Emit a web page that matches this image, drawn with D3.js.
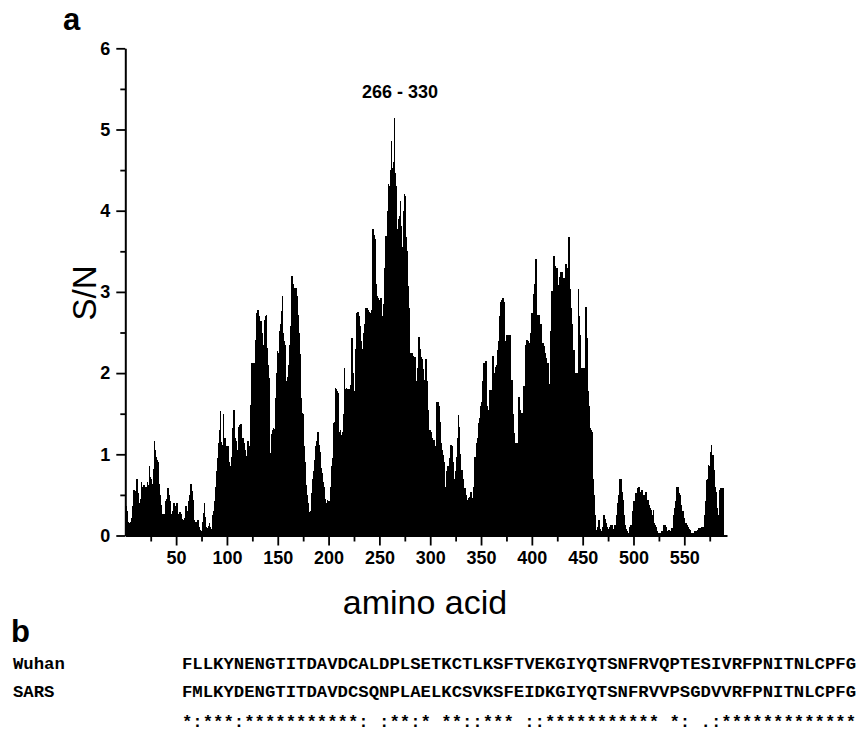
<!DOCTYPE html>
<html>
<head>
<meta charset="utf-8">
<script src="https://cdn.jsdelivr.net/npm/d3@7"></script>
<style>
  body { margin: 0; background: #fff; }
  svg { display: block; }
  .tick text { font-family: 'Liberation Sans', Arial, sans-serif; font-weight: bold; font-size: 18px; fill: #000; }
  .seq { font-family: 'Liberation Mono', 'Courier New', monospace; font-size: 17.3px; font-weight: bold; fill: #000; white-space: pre; }
</style>
</head>
<body>
<svg width="859" height="731"></svg>
<script>
// S/N per amino acid position (residue 1 .. 588)
var snValues = [
  0.36, 0.30, 0.17, 0.15, 0.14, 0.17, 0.22, 0.36, 0.56, 0.55,
  0.38, 0.70, 0.52, 0.40, 0.45, 0.66, 0.60, 0.62, 0.62, 0.60,
  0.60, 0.66, 0.62, 0.85, 0.72, 0.70, 0.64, 0.82, 1.16, 1.05,
  0.97, 0.93, 0.90, 0.64, 0.50, 0.38, 0.27, 0.26, 0.27, 0.42,
  0.45, 0.58, 0.50, 0.42, 0.25, 0.27, 0.30, 0.40, 0.34, 0.36,
  0.40, 0.27, 0.25, 0.29, 0.27, 0.20, 0.17, 0.19, 0.22, 0.36,
  0.27, 0.30, 0.42, 0.50, 0.64, 0.55, 0.44, 0.19, 0.17, 0.15,
  0.17, 0.19, 0.11, 0.07, 0.06, 0.17, 0.28, 0.40, 0.23, 0.10,
  0.09, 0.12, 0.15, 0.11, 0.08, 0.25, 0.30, 0.42, 0.60, 0.80,
  0.95, 1.14, 1.30, 1.53, 1.15, 1.12, 1.50, 1.20, 1.10, 1.10,
  1.10, 0.90, 0.73, 0.85, 0.97, 1.32, 1.55, 1.20, 1.16, 1.03,
  1.05, 1.34, 1.36, 1.37, 1.14, 1.20, 1.14, 1.05, 0.97, 0.98,
  1.16, 1.10, 1.05, 1.61, 2.12, 1.75, 2.13, 1.90, 2.41, 2.74,
  2.78, 2.70, 2.54, 2.64, 2.50, 2.35, 2.65, 2.70, 2.72, 2.31,
  2.10, 1.94, 1.01, 1.25, 1.30, 1.32, 1.31, 1.69, 2.00, 2.27,
  2.25, 2.52, 2.60, 2.76, 2.95, 2.50, 2.39, 2.35, 1.90, 1.95,
  2.10, 2.35, 2.58, 3.20, 3.10, 3.05, 3.05, 3.05, 2.95, 2.72,
  2.50, 2.23, 1.69, 1.51, 1.50, 1.10, 0.90, 0.62, 0.50, 0.40,
  0.29, 0.27, 0.30, 0.52, 0.70, 0.80, 0.93, 1.10, 1.16, 1.27,
  1.12, 1.03, 0.83, 0.77, 0.66, 0.60, 0.45, 0.40, 0.44, 0.42,
  0.42, 0.60, 0.85, 0.95, 1.38, 1.40, 1.82, 1.80, 1.78, 1.75,
  1.28, 1.30, 1.24, 1.28, 1.50, 2.06, 1.80, 1.82, 1.80, 1.80,
  1.80, 1.85, 2.43, 2.00, 1.78, 1.78, 2.30, 2.74, 2.75, 2.70,
  2.58, 2.40, 2.30, 2.25, 2.50, 2.60, 2.80, 2.80, 2.78, 2.75,
  2.74, 2.70, 2.78, 3.77, 3.70, 3.65, 3.10, 2.95, 2.93, 2.60,
  2.90, 2.93, 2.58, 2.70, 2.85, 3.30, 3.69, 4.00, 4.33, 4.30,
  4.50, 4.86, 4.53, 4.60, 5.14, 4.47, 4.30, 3.77, 3.90, 3.94,
  4.12, 3.81, 3.55, 4.00, 4.20, 4.18, 3.67, 3.50, 3.07, 2.80,
  2.25, 2.25, 2.21, 2.20, 2.20, 1.38, 1.90, 2.06, 2.45, 2.30,
  2.20, 2.17, 2.05, 1.92, 1.88, 2.17, 1.90, 1.55, 1.30, 1.30,
  1.28, 1.20, 1.08, 1.18, 0.95, 1.10, 1.65, 1.65, 1.59, 1.40,
  1.14, 1.05, 0.99, 0.90, 0.48, 0.60, 0.79, 0.85, 0.95, 1.12,
  1.12, 1.10, 0.90, 0.70, 0.80, 0.97, 1.20, 1.49, 1.34, 1.00,
  0.81, 0.81, 0.70, 0.58, 0.58, 0.50, 0.44, 0.46, 0.48, 0.54,
  0.54, 0.46, 0.60, 0.97, 0.95, 1.14, 1.20, 1.38, 1.45, 1.60,
  1.65, 1.90, 2.12, 2.10, 2.15, 1.59, 1.55, 1.47, 1.79, 1.60,
  1.79, 2.21, 2.00, 1.69, 2.08, 2.10, 2.29, 2.40, 2.70, 2.88,
  2.90, 2.93, 2.88, 2.35, 2.40, 2.47, 2.47, 2.45, 2.47, 1.92,
  1.92, 1.50, 1.26, 1.14, 1.14, 1.14, 1.71, 1.71, 1.55, 1.51,
  1.51, 1.84, 1.84, 2.35, 2.41, 2.41, 2.39, 2.37, 2.50, 2.74,
  2.74, 2.97, 3.10, 3.40, 2.72, 2.72, 2.72, 2.60, 2.60, 2.37,
  2.37, 2.33, 2.25, 2.19, 2.13, 2.13, 1.86, 1.86, 2.52, 3.01,
  3.01, 3.44, 3.32, 3.30, 3.30, 3.09, 3.09, 3.18, 3.24, 3.24,
  3.09, 3.17, 3.17, 3.34, 3.30, 3.20, 3.68, 3.03, 2.80, 2.60,
  2.29, 2.29, 2.00, 2.00, 2.00, 3.03, 2.70, 2.47, 2.06, 2.06,
  2.06, 2.06, 2.82, 2.82, 2.43, 1.78, 1.60, 1.32, 1.30, 1.28,
  0.70, 0.50, 0.25, 0.07, 0.10, 0.19, 0.08, 0.05, 0.05, 0.10,
  0.25, 0.20, 0.15, 0.11, 0.08, 0.05, 0.10, 0.13, 0.13, 0.08,
  0.05, 0.13, 0.13, 0.25, 0.40, 0.50, 0.70, 0.70, 0.54, 0.44,
  0.25, 0.13, 0.08, 0.05, 0.03, 0.03, 0.11, 0.13, 0.13, 0.30,
  0.42, 0.52, 0.52, 0.58, 0.60, 0.60, 0.54, 0.56, 0.56, 0.50,
  0.50, 0.54, 0.54, 0.44, 0.44, 0.38, 0.34, 0.32, 0.25, 0.31,
  0.15, 0.13, 0.11, 0.05, 0.03, 0.03, 0.03, 0.05, 0.05, 0.13,
  0.13, 0.11, 0.05, 0.05, 0.07, 0.05, 0.05, 0.09, 0.09, 0.25,
  0.34, 0.42, 0.60, 0.60, 0.52, 0.50, 0.38, 0.27, 0.30, 0.21,
  0.15, 0.15, 0.13, 0.11, 0.08, 0.07, 0.03, 0.03, 0.03, 0.03,
  0.05, 0.05, 0.07, 0.09, 0.09, 0.09, 0.11, 0.11, 0.11, 0.25,
  0.42, 0.68, 0.70, 0.87, 0.85, 1.03, 1.12, 0.99, 0.99, 0.81,
  0.60, 0.54, 0.34, 0.25, 0.56, 0.58, 0.58, 0.58
];

var xMajorTicks = [50, 100, 150, 200, 250, 300, 350, 400, 450, 500, 550];
var xMinorTicks = [25, 75, 125, 175, 225, 275, 325, 375, 425, 475, 525, 575];
var yMajorTicks = [0, 1, 2, 3, 4, 5, 6];
var yMinorTicks = [0.5, 1.5, 2.5, 3.5, 4.5, 5.5];

var seqNames = ['Wuhan', 'SARS', ''];
var seqLines = [
  'FLLKYNENGTITDAVDCALDPLSETKCTLKSFTVEKGIYQTSNFRVQPTESIVRFPNITNLCPFG',
  'FMLKYDENGTITDAVDCSQNPLAELKCSVKSFEIDKGIYQTSNFRVVPSGDVVRFPNITNLCPFG',
  '*:***:***********: :**:* **::*** ::*********** *: .:*************'
];

var svg = d3.select('svg');

var scaleX = d3.scaleLinear().domain([0, 592]).range([125.3, 727]);
var scaleY = d3.scaleLinear().domain([0, 6]).range([535.5, 48.3]);

var barW = scaleX(1) - scaleX(0) + 0.6;

svg.append('g')
  .attr('shape-rendering', 'crispEdges')
  .selectAll('rect')
  .data(snValues)
  .enter()
  .append('rect')
  .attr('x', function(d, i) { return scaleX(i); })
  .attr('width', barW)
  .attr('y', function(d) { return scaleY(d); })
  .attr('height', function(d) { return scaleY(0) - scaleY(d); })
  .attr('fill', '#000');

// x axis
svg.append('g')
  .attr('transform', 'translate(0,' + scaleY(0) + ')')
  .call(d3.axisBottom(scaleX).tickValues(xMinorTicks).tickSize(6).tickSizeOuter(0).tickFormat(''))
  .call(function(g) { g.select('.domain').remove(); });

svg.append('g')
  .attr('transform', 'translate(0,' + scaleY(0) + ')')
  .call(d3.axisBottom(scaleX).tickValues(xMajorTicks).tickSize(10).tickSizeOuter(0).tickPadding(6));

// y axis
svg.append('g')
  .attr('transform', 'translate(' + scaleX(0) + ',0)')
  .call(d3.axisLeft(scaleY).tickValues(yMinorTicks).tickSize(5).tickSizeOuter(0).tickFormat(''))
  .call(function(g) { g.select('.domain').remove(); });

svg.append('g')
  .attr('transform', 'translate(' + scaleX(0) + ',0)')
  .call(d3.axisLeft(scaleY).tickValues(yMajorTicks).tickSize(9).tickSizeOuter(0).tickPadding(6).tickFormat(d3.format('d')));

svg.selectAll('.domain').attr('stroke', '#000').attr('stroke-width', 2);
svg.selectAll('.tick line').attr('stroke', '#000').attr('stroke-width', 1.8);

svg.append('text')
  .attr('x', 400)
  .attr('y', 98)
  .attr('text-anchor', 'middle')
  .attr('font-family', 'Liberation Sans, Arial, sans-serif')
  .attr('font-weight', 'bold')
  .attr('font-size', 18)
  .text('266 - 330');

svg.append('text')
  .attr('transform', 'rotate(270)')
  .attr('x', -293)
  .attr('y', 96)
  .attr('text-anchor', 'middle')
  .attr('font-family', 'Liberation Sans, Arial, sans-serif')
  .attr('font-size', 33)
  .text('S/N');

svg.append('text')
  .attr('x', 425)
  .attr('y', 614)
  .attr('text-anchor', 'middle')
  .attr('font-family', 'Liberation Sans, Arial, sans-serif')
  .attr('font-size', 34)
  .text('amino acid');

svg.append('text')
  .attr('x', 63)
  .attr('y', 30)
  .attr('font-family', 'Liberation Sans, Arial, sans-serif')
  .attr('font-weight', 'bold')
  .attr('font-size', 31)
  .text('a');

svg.append('text')
  .attr('x', 11)
  .attr('y', 642)
  .attr('font-family', 'Liberation Sans, Arial, sans-serif')
  .attr('font-weight', 'bold')
  .attr('font-size', 31)
  .text('b');

var rowY = [669, 697, 727];

svg.selectAll('.seqname')
  .data(seqNames)
  .enter()
  .append('text')
  .attr('class', 'seq seqname')
  .attr('x', 13)
  .attr('y', function(d, i) { return rowY[i]; })
  .text(function(d) { return d; });

svg.selectAll('.seqline')
  .data(seqLines)
  .enter()
  .append('text')
  .attr('class', 'seq seqline')
  .attr('x', 182)
  .attr('y', function(d, i) { return rowY[i]; })
  .attr('xml:space', 'preserve')
  .text(function(d) { return d; });
</script>
</body>
</html>
